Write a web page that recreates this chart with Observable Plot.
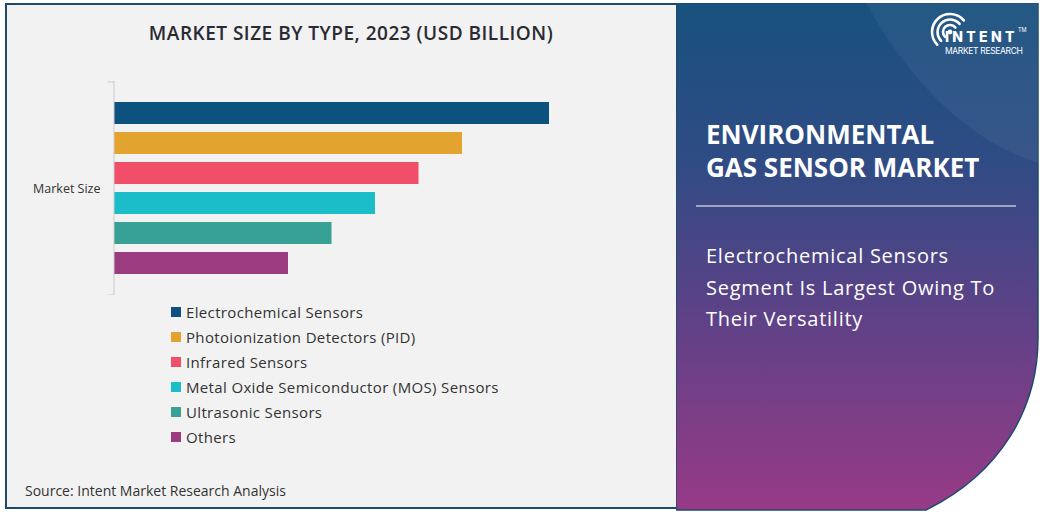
<!DOCTYPE html>
<html>
<head>
<meta charset="utf-8">
<script src="https://cdn.jsdelivr.net/npm/d3@7"></script>
<script src="https://cdn.jsdelivr.net/npm/@observablehq/plot@0.6"></script>
<style>
  html, body { margin: 0; padding: 0; background: #ffffff; }
  #wrap { position: relative; width: 1043px; height: 513px; overflow: hidden; font-family: "Open Sans", "DejaVu Sans", sans-serif; }
  #left { position: absolute; left: 5px; top: 3px; width: 671px; height: 506px; background: #f2f2f2;
          border-top: 2px solid #1d4b70; border-left: 2px solid #1d4b70; border-bottom: 2px solid #1d4b70; box-sizing: border-box; }
  #title { position: absolute; left: 0; width: 702px; top: 20px; text-align: center; font-size: 19px; font-weight: 600; color: #2a2a33; letter-spacing: 0.5px; }
  #chart { position: absolute; left: 0; top: 81px; }
  #legend { position: absolute; left: 171px; top: 299px; }
  .li { height: 25px; display: flex; align-items: center; font-size: 15px; color: #333; letter-spacing: 0.35px; }
  .sw { width: 10px; height: 10px; margin-right: 5px; }
  #source { position: absolute; left: 25px; top: 481px; font-size: 14px; color: #333; }
  #right { position: absolute; left: 676px; top: 3px; }
  .rt { position: absolute; color: #fff; white-space: nowrap; }
  #h1 { left: 706px; top: 118px; font-size: 26px; font-weight: 700; line-height: 33px; letter-spacing: 0px; }
  #sub { left: 706px; top: 240px; font-size: 20px; font-weight: 500; line-height: 31.5px; letter-spacing: 0.75px; }
  #intent { left: 945px; top: 28px; font-family: Inter, sans-serif; font-size: 14px; font-weight: 800; letter-spacing: 3.3px; }
  #tm { left: 1018px; top: 27px; font-family: Inter, sans-serif; font-size: 5.5px; }
  #mr { left: 945px; top: 46px; font-family: Inter, sans-serif; font-size: 8.5px; letter-spacing: -0.35px; }
</style>
</head>
<body>
<div id="wrap">
  <div id="left"></div>
  <svg id="right" width="367" height="510" viewBox="0 0 367 510">
    <defs>
      <linearGradient id="g" x1="0" y1="0" x2="0" y2="1">
        <stop offset="0" stop-color="#18517e"/>
        <stop offset="0.3" stop-color="#2e4c84"/>
        <stop offset="0.6" stop-color="#5b4287"/>
        <stop offset="1" stop-color="#983a86"/>
      </linearGradient>
    </defs>
    <path d="M0,0 H362 V335 C362,405 325,470 250,507 H0 Z" fill="url(#g)" stroke="#1d4b70" stroke-width="1.5"/>
    <path d="M190,0 C240,90 300,140 362,160 V0 Z" fill="#ffffff" fill-opacity="0.05"/>
    <line x1="20" y1="203" x2="340" y2="203" stroke="#ffffff" stroke-width="1.2"/>
    <g fill="none" stroke="#ffffff" stroke-width="2.6" stroke-linecap="round" transform="translate(0,2)">
      <path d="M269.05,31.95 A7,7 0 1 1 279.36,22.5"/>
      <path d="M265.16,35.84 A12.5,12.5 0 1 1 283.58,18.96"/>
      <path d="M261.27,39.73 A18,18 0 1 1 287.79,15.43"/>
      <circle cx="274" cy="27" r="2.4" fill="#ffffff" stroke="none"/>
    </g>
  </svg>
  <div class="rt" id="h1">ENVIRONMENTAL<br>GAS SENSOR MARKET</div>
  <div class="rt" id="sub">Electrochemical Sensors<br>Segment Is Largest Owing To<br>Their Versatility</div>
  <div class="rt" id="intent">INTENT</div>
  <div class="rt" id="tm">TM</div>
  <div class="rt" id="mr">MARKET RESEARCH</div>
  <div id="title">MARKET SIZE BY TYPE, 2023 (USD BILLION)</div>
  <div id="chart"></div>
  <div id="legend"></div>
  <div id="source">Source: Intent Market Research Analysis</div>
</div>
<script>
const group = ["Market Size"];
const types = [
  "Electrochemical Sensors",
  "Photoionization Detectors (PID)",
  "Infrared Sensors",
  "Metal Oxide Semiconductor (MOS) Sensors",
  "Ultrasonic Sensors",
  "Others"
];
const values = [2.50, 2.00, 1.75, 1.50, 1.25, 1.00];
const colors = ["#0d527f", "#e2a42e", "#f04e69", "#1bbec8", "#38a196", "#9b3b80"];

const data = types.map((t, i) => ({group: group[0], type: t, value: values[i]}));

const W = 676, ML = 114, MR = 127;
const chart = Plot.plot({
  width: W,
  height: 214,
  marginLeft: ML,
  marginRight: MR,
  marginTop: 0,
  marginBottom: 0,
  style: {background: "transparent", fontFamily: "'Open Sans', sans-serif", fontSize: "12.5px", color: "#333"},
  x: {axis: null, domain: [0, 2.5]},
  y: {domain: types, axis: null, paddingInner: 0.275, paddingOuter: 0.63},
  fy: {domain: group, axis: "left", label: null, tickSize: 0, tickPadding: 14, padding: 0},
  color: {domain: types, range: colors},
  marks: [
    Plot.barX(data, {x: "value", y: "type", fy: "group", fill: "type"}),
    Plot.frame({anchor: "left", stroke: "#cccccc", dx: -0.5}),
    Plot.frame({anchor: "top", stroke: "#cccccc", insetRight: W - ML - MR - 6, dx: -6.5, dy: 0.5}),
    Plot.frame({anchor: "bottom", stroke: "#cccccc", insetRight: W - ML - MR - 6, dx: -6.5, dy: -0.5})
  ]
});
document.getElementById("chart").appendChild(chart);

const legend = document.getElementById("legend");
types.forEach((t, i) => {
  const row = document.createElement("div");
  row.className = "li";
  const sw = document.createElement("div");
  sw.className = "sw";
  sw.style.background = colors[i];
  const tx = document.createElement("span");
  tx.textContent = t;
  row.appendChild(sw);
  row.appendChild(tx);
  legend.appendChild(row);
});
</script>
</body>
</html>
